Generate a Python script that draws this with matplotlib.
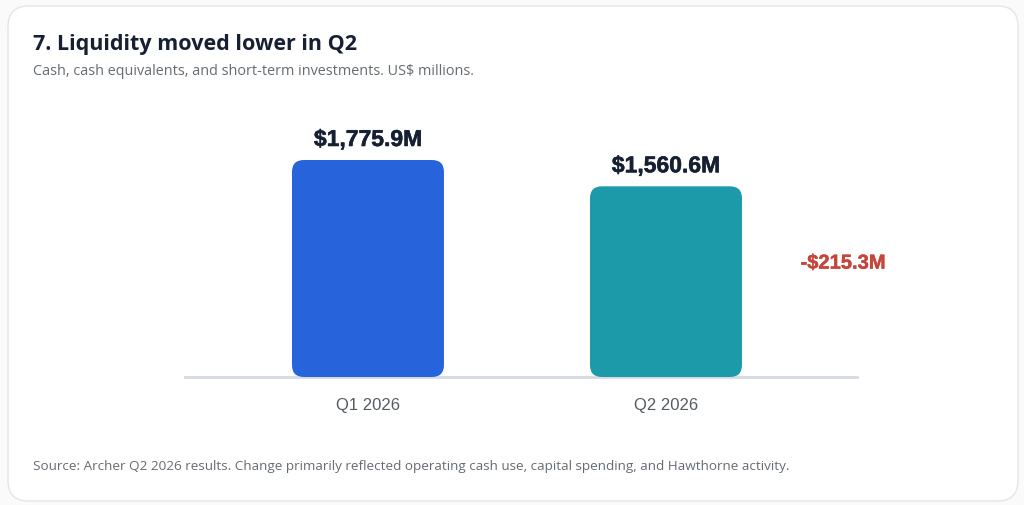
import matplotlib.pyplot as plt
import matplotlib.patheffects as pe
from matplotlib.patches import FancyBboxPatch

categories = ["Q1 2026", "Q2 2026"]
liquidity = [1775.9, 1560.6]
value_labels = ["$1,775.9M", "$1,560.6M"]
change_label = "-$215.3M"
bar_colors = ["#2764dc", "#1c9aa9"]

fig = plt.figure(figsize=(10.24, 5.05), dpi=100)
fig.patch.set_facecolor("#fafafa")

# card background
card = FancyBboxPatch((8 / 1024, 4 / 505), 1010 / 1024, 495 / 505,
                      boxstyle="round,pad=0,rounding_size=0.02",
                      mutation_aspect=1024 / 505,
                      transform=fig.transFigure, facecolor="white",
                      edgecolor="#e3e5e8", linewidth=1.0, zorder=-5)
fig.patches.append(card)

fig.text(33 / 1024, 1 - 50 / 505, "7. Liquidity moved lower in Q2",
         fontsize=15.5, fontweight="bold", color="#172033",
         family=["Open Sans", "DejaVu Sans"], va="baseline")
fig.text(33 / 1024, 1 - 75 / 505,
         "Cash, cash equivalents, and short-term investments. US$ millions.",
         fontsize=10.4, color="#666b73", family=["Open Sans", "DejaVu Sans"],
         va="baseline")
fig.text(33 / 1024, 1 - 470 / 505,
         "Source: Archer Q2 2026 results. Change primarily reflected operating "
         "cash use, capital spending, and Hawthorne activity.",
         fontsize=9.7, color="#666b73", family=["Open Sans", "DejaVu Sans"],
         va="baseline")

ax = fig.add_axes([185 / 1024, 1 - 377 / 505, 672 / 1024, 267 / 505])
ax.set_facecolor("none")
x = list(range(len(categories)))
bars = ax.bar(x, liquidity, width=0.51, color=bar_colors)
ax.set_xlim(-0.614, 1.641)
ax.set_ylim(0, 1775.9 * 267 / 217)

# swap plain bars for rounded ones
px_x = 1 / 298
px_y = ax.get_ylim()[1] / 267
for b in bars:
    bx, by, bw, bh = b.get_x(), b.get_y(), b.get_width(), b.get_height()
    b.set_visible(False)
    ax.add_patch(FancyBboxPatch((bx, by), bw, bh,
                                boxstyle=f"round,pad=0,rounding_size={12 * px_x}",
                                mutation_aspect=px_y / px_x,
                                facecolor=b.get_facecolor(), edgecolor="none",
                                zorder=2))

heavy = [pe.withStroke(linewidth=0.4, foreground="#172033")]
for xi, v, lab in zip(x, liquidity, value_labels):
    ax.text(xi, v + 9 * px_y, lab, ha="center", va="bottom", fontsize=16.5,
            fontweight="bold", color="#172033", family="Liberation Sans",
            path_effects=heavy)

ax.text(1.594, 932, change_label, ha="center", va="center", fontsize=14.5,
        fontweight="bold", color="#c5453b", family="Liberation Sans",
        path_effects=[pe.withStroke(linewidth=0.3, foreground="#c5453b")])

for s in ["top", "right", "left"]:
    ax.spines[s].set_visible(False)
ax.spines["bottom"].set_color("#d5dae1")
ax.spines["bottom"].set_linewidth(2)
ax.spines["bottom"].set_zorder(1)
ax.set_yticks([])
ax.set_xticks(x)
ax.set_xticklabels(categories, fontsize=12, color="#555b63",
                   family="Liberation Sans")
ax.tick_params(axis="x", length=0, pad=15)

fig.savefig("out.png", dpi=100, facecolor=fig.get_facecolor())
